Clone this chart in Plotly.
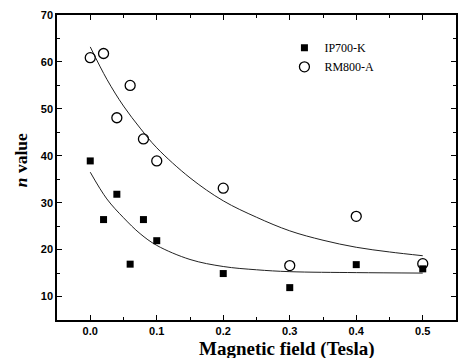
import plotly.graph_objects as go

# Measured data
field = [0.0, 0.02, 0.04, 0.06, 0.08, 0.1, 0.2, 0.3, 0.4, 0.5]
ip700_n = [38.9, 26.4, 31.8, 16.9, 26.4, 21.9, 14.9, 11.9, 16.8, 15.9]
rm800_n = [60.9, 61.8, 48.1, 55.0, 43.6, 38.9, 33.1, 16.6, 27.1, 17.0]

# Fit curves
fit_rm_x = [0.0, 0.025, 0.05, 0.075, 0.1, 0.15, 0.2, 0.25, 0.3, 0.35, 0.4, 0.45, 0.5]
fit_rm_y = [63.2, 56.3, 50.6, 45.9, 41.7, 35.3, 30.4, 26.9, 24.0, 22.0, 20.5, 19.5, 18.7]
fit_ip_x = [0.0, 0.025, 0.05, 0.075, 0.1, 0.15, 0.2, 0.25, 0.3, 0.4, 0.5]
fit_ip_y = [36.5, 30.8, 26.8, 23.4, 20.9, 17.9, 16.4, 15.7, 15.3, 15.1, 15.0]

x_ticks = [0.0, 0.1, 0.2, 0.3, 0.4, 0.5]
y_ticks = [10, 20, 30, 40, 50, 60, 70]

fig = go.Figure()
fig.add_trace(go.Scatter(x=fit_rm_x, y=fit_rm_y, mode="lines", line=dict(color="#222", width=1, shape="spline"),
                         showlegend=False, hoverinfo="skip"))
fig.add_trace(go.Scatter(x=fit_ip_x, y=fit_ip_y, mode="lines", line=dict(color="#222", width=1, shape="spline"),
                         showlegend=False, hoverinfo="skip"))
fig.add_trace(go.Scatter(x=field, y=ip700_n, mode="markers", name="IP700-K",
                         marker=dict(symbol="square", size=7, color="black")))
fig.add_trace(go.Scatter(x=field, y=rm800_n, mode="markers", name="RM800-A",
                         marker=dict(symbol="circle-open", size=10, color="black", line=dict(width=1.3))))

axis_common = dict(showgrid=False, zeroline=False, showline=True, linecolor="black", linewidth=1.5,
                   mirror="ticks", ticks="inside", ticklen=5, tickwidth=1.3, tickcolor="black",
                   tickfont=dict(family="Liberation Sans, Arial", size=11, color="black", weight="bold"))

fig.update_xaxes(range=[-0.05, 0.55], tickvals=x_ticks, ticktext=[f"{v:.1f}" for v in x_ticks],
                 minor=dict(ticks="inside", ticklen=3, dtick=0.05, tick0=0, tickcolor="black"),
                 **axis_common)
fig.update_yaxes(range=[5, 70], tickvals=y_ticks,
                 minor=dict(ticks="inside", ticklen=3, dtick=5, tick0=0, tickcolor="black"),
                 **axis_common)

title_font = dict(family="Liberation Serif, Times New Roman", color="black")
fig.add_annotation(text="<b>Magnetic field (Tesla)</b>", xref="paper", yref="paper",
                   x=0.576, y=-0.0951, xanchor="center", yanchor="middle", showarrow=False,
                   font=dict(size=19, **title_font))
fig.add_annotation(text="<b><i>n</i> value</b>", xref="paper", yref="paper",
                   x=-0.0898, y=0.5246, xanchor="center", yanchor="middle", showarrow=False,
                   textangle=-90, font=dict(size=17.5, **title_font))

fig.update_layout(width=463, height=358, margin=dict(l=57, r=5, t=15, b=38),
                  plot_bgcolor="white", paper_bgcolor="white",
                  legend=dict(x=0.57, y=0.94, xanchor="left", yanchor="top", bgcolor="rgba(0,0,0,0)",
                              font=dict(family="Liberation Serif, Times New Roman", size=12, color="black"),
                              itemwidth=30, tracegroupgap=0))
fig.write_html("out.html")
